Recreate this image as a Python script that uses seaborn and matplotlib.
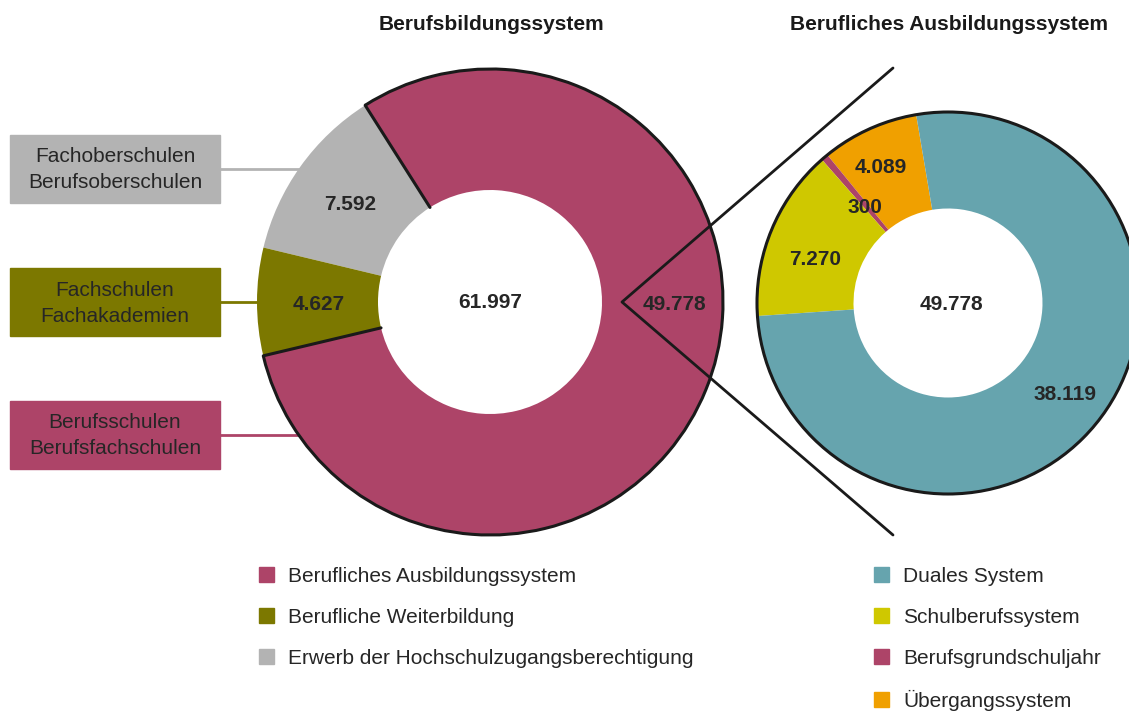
import matplotlib
matplotlib.use("Agg")
import matplotlib.pyplot as plt
from matplotlib.patches import Patch, Arc, Circle, Rectangle
import numpy as np
import seaborn as sns

# data: Berufsbildungssystem (left) and Berufliches Ausbildungssystem (right)
left_labels = ["Erwerb der Hochschulzugangsberechtigung", "Berufliche Weiterbildung",
               "Berufliches Ausbildungssystem"]
left_values = [7592, 4627, 49778]
left_text = ["7.592", "4.627", "49.778"]
left_total = "61.997"

right_labels = ["Übergangssystem", "Berufsgrundschuljahr", "Schulberufssystem", "Duales System"]
right_values = [4089, 300, 7270, 38119]
right_text = ["4.089", "300", "7.270", "38.119"]
right_total = "49.778"

box_lines = [["Fachoberschulen", "Berufsoberschulen"],
             ["Fachschulen", "Fachakademien"],
             ["Berufsschulen", "Berufsfachschulen"]]

c_mag = "#ad4468"
c_oli = "#7c7800"
c_gray = "#b3b3b3"
c_teal = "#66a4ae"
c_yel = "#cfc800"
c_ora = "#f0a000"
left_colors = [c_gray, c_oli, c_mag]
right_colors = [c_ora, c_mag, c_yel, c_teal]
txt = "#262626"

sns.set_theme(style="white")
plt.rcParams["font.family"] = ["Liberation Sans", "DejaVu Sans"]

W, H = 1129, 711
fig = plt.figure(figsize=(W / 100, H / 100), dpi=100)
ax = fig.add_axes([0, 0, 1, 1])


def Y(py):
    return H - py


NUM = dict(ha="center", va="center", fontsize=15, fontweight="bold", color=txt, zorder=4)

# left donut
lc, lr, lw_ = (490, Y(302)), 233, 121
wl, _ = ax.pie(left_values, colors=left_colors, startangle=122.4, counterclock=True,
               center=lc, radius=lr, wedgeprops=dict(width=lw_, linewidth=0))
# black outline of Ausbildung wedge (outer arc + radial edges)
mw = wl[2]
ax.add_patch(Arc(lc, 2 * lr, 2 * lr, theta1=mw.theta1, theta2=mw.theta2,
                 color="#1a1a1a", lw=2.2, zorder=3))
for th in (mw.theta1, mw.theta2):
    t = np.radians(th)
    ax.plot([lc[0] + (lr - lw_) * np.cos(t), lc[0] + lr * np.cos(t)],
            [lc[1] + (lr - lw_) * np.sin(t), lc[1] + lr * np.sin(t)],
            color="#1a1a1a", lw=2.2, zorder=3, solid_capstyle="round")

for w, s in zip(wl[:2], left_text[:2]):
    t = np.radians((w.theta1 + w.theta2) / 2)
    rr = lr - lw_ / 2
    ax.text(lc[0] + rr * np.cos(t) + 1, lc[1] + rr * np.sin(t) - 3, s, **NUM)
ax.text(674, Y(304), left_text[2], **NUM)
ax.text(lc[0], lc[1] - 1, left_total, **NUM)

# right donut
rc, rr_, rw = (948, Y(303)), 191, 96.5
wr, _ = ax.pie(right_values, colors=right_colors, startangle=99.6, counterclock=True,
               center=rc, radius=rr_, wedgeprops=dict(width=rw, linewidth=0))
ax.add_patch(Circle(rc, rr_, fill=False, ec="#1a1a1a", lw=2.2, zorder=3))
# label placement (angle offset from wedge middle, radius)
lab_dang = [1.5, 0.3, 3.6, 0.7]
lab_r = [153, 128, 140, 147]
for w, s, da, r0 in zip(wr, right_text, lab_dang, lab_r):
    t = np.radians((w.theta1 + w.theta2) / 2 + da)
    ax.text(rc[0] + r0 * np.cos(t), rc[1] + r0 * np.sin(t) - 2, s, **NUM)
ax.text(rc[0] + 3, rc[1] - 1, right_total, **NUM)

# zoom lines
ax.plot([893, 622, 893], [Y(68), Y(302), Y(535)], color="#1a1a1a", lw=2, zorder=3)

# titles
ax.text(491, Y(25), "Berufsbildungssystem", ha="center", va="center", fontsize=15,
        fontweight="bold", color="#1a1a1a")
ax.text(949, Y(25), "Berufliches Ausbildungssystem", ha="center", va="center", fontsize=15,
        fontweight="bold", color="#1a1a1a")

# side boxes
box_colors = [c_gray, c_oli, c_mag]
box_mid = [169, 302, 435]
for lines, col, ym in zip(box_lines, box_colors, box_mid):
    ax.add_patch(Rectangle((10, Y(ym + 34)), 210, 68, color=col, zorder=2))
    ax.plot([220, 300], [Y(ym), Y(ym)], color=col, lw=2, zorder=0.5)
    ax.text(115, Y(ym - 12), lines[0], ha="center", va="center", fontsize=15,
            color=txt, zorder=3)
    ax.text(115, Y(ym + 14), lines[1], ha="center", va="center", fontsize=15,
            color=txt, zorder=3)

# legends
lh = [Patch(color=c_mag, label=left_labels[2]), Patch(color=c_oli, label=left_labels[1]),
      Patch(color=c_gray, label=left_labels[0])]
rh = [Patch(color=c_teal, label=right_labels[3]), Patch(color=c_yel, label=right_labels[2]),
      Patch(color=c_mag, label=right_labels[1]), Patch(color=c_ora, label=right_labels[0])]
kw = dict(frameon=False, fontsize=15, handlelength=0.7, handleheight=0.7,
          handletextpad=0.7, labelspacing=1.05, borderpad=0, borderaxespad=0,
          loc="upper left", labelcolor=txt)
leg1 = ax.legend(handles=lh, bbox_to_anchor=(259 / W, 1 - 567 / H), **kw)
ax.add_artist(leg1)
ax.legend(handles=rh, bbox_to_anchor=(874 / W, 1 - 567 / H), **kw)

ax.set_xlim(0, W)
ax.set_ylim(0, H)
ax.set_aspect("auto")
ax.axis("off")
fig.savefig("out.png", dpi=100)
